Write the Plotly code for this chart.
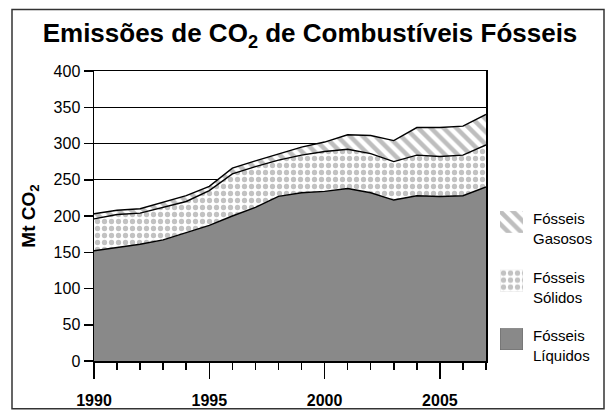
import plotly.graph_objects as go

# ---- data (Mt CO2) ----
YEARS = [1990, 1991, 1992, 1993, 1994, 1995, 1996, 1997, 1998, 1999,
         2000, 2001, 2002, 2003, 2004, 2005, 2006, 2007]
LIQUIDOS = [152, 156, 161, 167, 177, 187, 200, 212, 227, 232,
            234, 238, 232, 222, 228, 227, 228, 240]
SOLIDOS = [44, 46, 43, 45, 43, 48, 58, 56, 50, 52,
           55, 54, 54, 53, 56, 55, 56, 58]
GASOSOS = [7, 6, 6, 7, 8, 6, 8, 8, 9, 11,
           13, 20, 25, 29, 38, 40, 40, 42]

Y_TICKS = [0, 50, 100, 150, 200, 250, 300, 350, 400]
X_TICKS = [1990, 1995, 2000, 2005]

TITLE = "Emissões de CO<sub>2</sub> de Combustíveis Fósseis"
Y_TITLE = "Mt CO<sub>2</sub>"
LEGEND = ["Fósseis<br>Gasosos", "Fósseis<br>Sólidos", "Fósseis<br>Líquidos"]

# ---- layout geometry (pixels) ----
W, H = 611, 414
ML, MR, MT, MB = 94, 5, 71, 51
PW = W - ML - MR
PH = H - MT - MB
PLOT_RIGHT = 486


def px_x(px):
    return (px - ML) / PW


def px_y(py):
    return (H - MB - py) / PH


GRAY = "#898989"
FONT = "Liberation Sans, Arial, sans-serif"

hatch = dict(shape="\\", fgcolor="#7e7e7e", bgcolor="white", size=9, solidity=0.5)
dots = dict(shape=".", fgcolor="#858585", bgcolor="white", size=7, solidity=0.45)

fig = go.Figure()

fig.add_trace(go.Scatter(
    x=YEARS, y=LIQUIDOS, stackgroup="one", mode="lines",
    line=dict(color="black", width=1.4), fillcolor=GRAY,
    name="Fósseis Líquidos", showlegend=False, hoverinfo="skip"))
fig.add_trace(go.Scatter(
    x=YEARS, y=SOLIDOS, stackgroup="one", mode="lines",
    line=dict(color="black", width=1.4), fillpattern=dots, fillcolor="white",
    name="Fósseis Sólidos", showlegend=False, hoverinfo="skip"))
fig.add_trace(go.Scatter(
    x=YEARS, y=GASOSOS, stackgroup="one", mode="lines",
    line=dict(color="black", width=1.4), fillpattern=hatch, fillcolor="white",
    name="Fósseis Gasosos", showlegend=False, hoverinfo="skip"))

# ---- legend swatches (inset axes) ----
SWATCH_X = [0, 1, 1, 0, 0]
SWATCH_Y = [0, 0, 1, 1, 0]
swatch_tops = [212, 271, 330]
swatch_h = 22
swatch_styles = [
    dict(fillpattern=hatch, fillcolor="white", line=dict(width=0, color="white")),
    dict(fillpattern=dots, fillcolor="white", line=dict(width=0.5, color="#cccccc")),
    dict(fillcolor=GRAY, line=dict(width=1, color="#666666")),
]
layout_axes = {}
for i, (top, st) in enumerate(zip(swatch_tops, swatch_styles)):
    n = i + 2
    fig.add_trace(go.Scatter(x=SWATCH_X, y=SWATCH_Y, mode="lines", fill="toself",
                             xaxis=f"x{n}", yaxis=f"y{n}", showlegend=False,
                             hoverinfo="skip", **st))
    layout_axes[f"xaxis{n}"] = dict(domain=[px_x(500), px_x(523)], range=[0, 1],
                                    visible=False, fixedrange=True, anchor=f"y{n}")
    layout_axes[f"yaxis{n}"] = dict(domain=[px_y(top + swatch_h), px_y(top)], range=[0, 1],
                                    visible=False, fixedrange=True, anchor=f"x{n}")

annotations = []
for txt, top in zip(LEGEND, swatch_tops):
    annotations.append(dict(
        x=px_x(531), y=px_y(top - 3), xref="paper", yref="paper",
        text=txt, showarrow=False, xanchor="left", yanchor="top", align="left",
        font=dict(family=FONT, size=15, color="black")))

fig.update_layout(
    width=W, height=H,
    margin=dict(l=ML, r=MR, t=MT, b=MB),
    paper_bgcolor="white", plot_bgcolor="white",
    font=dict(family=FONT, color="black"),
    title=dict(text="<b>" + TITLE + "</b>", x=310 / W, xanchor="center",
               y=1 - 33 / H, yanchor="middle", xref="container", yref="container",
               font=dict(family=FONT, size=26, color="black")),
    xaxis=dict(domain=[0, px_x(PLOT_RIGHT)], range=[1990, 2007],
               tickmode="array", tickvals=X_TICKS,
               ticktext=["<b>%d</b>" % v for v in X_TICKS],
               ticks="outside", ticklen=16, tickwidth=1.5, tickcolor="black",
               minor=dict(dtick=1, tick0=1990, ticks="outside", ticklen=7,
                          tickwidth=1.5, tickcolor="black", showgrid=False),
               showgrid=False, zeroline=False,
               showline=True, linecolor="black", linewidth=1.5, mirror=True,
               tickfont=dict(family=FONT, size=16, color="black"),
               ticklabelstandoff=8, fixedrange=True),
    yaxis=dict(range=[0, 400], tickmode="array", tickvals=Y_TICKS,
               ticks="outside", ticklen=9, tickwidth=1.5, tickcolor="black",
               showgrid=True, gridcolor="black", gridwidth=1,
               zeroline=False,
               showline=True, linecolor="black", linewidth=1.5, mirror=True,
               tickfont=dict(family=FONT, size=16, color="black"),
               title=dict(text="<b>" + Y_TITLE + "</b>", standoff=13,
                          font=dict(family=FONT, size=19, color="black")),
               fixedrange=True),
    showlegend=False,
    annotations=annotations,
    shapes=[dict(type="rect", xref="paper", yref="paper",
                 x0=px_x(12), x1=px_x(604), y0=px_y(411), y1=px_y(9),
                 line=dict(color="#333333", width=1.5), fillcolor="rgba(0,0,0,0)",
                 layer="below")],
    **layout_axes,
)

fig.write_html(
    "out.html",
    config={"displayModeBar": False, "staticPlot": True},
    post_script="document.body.style.margin='0';document.body.style.padding='0';"
                "document.body.style.overflow='hidden';",
)
